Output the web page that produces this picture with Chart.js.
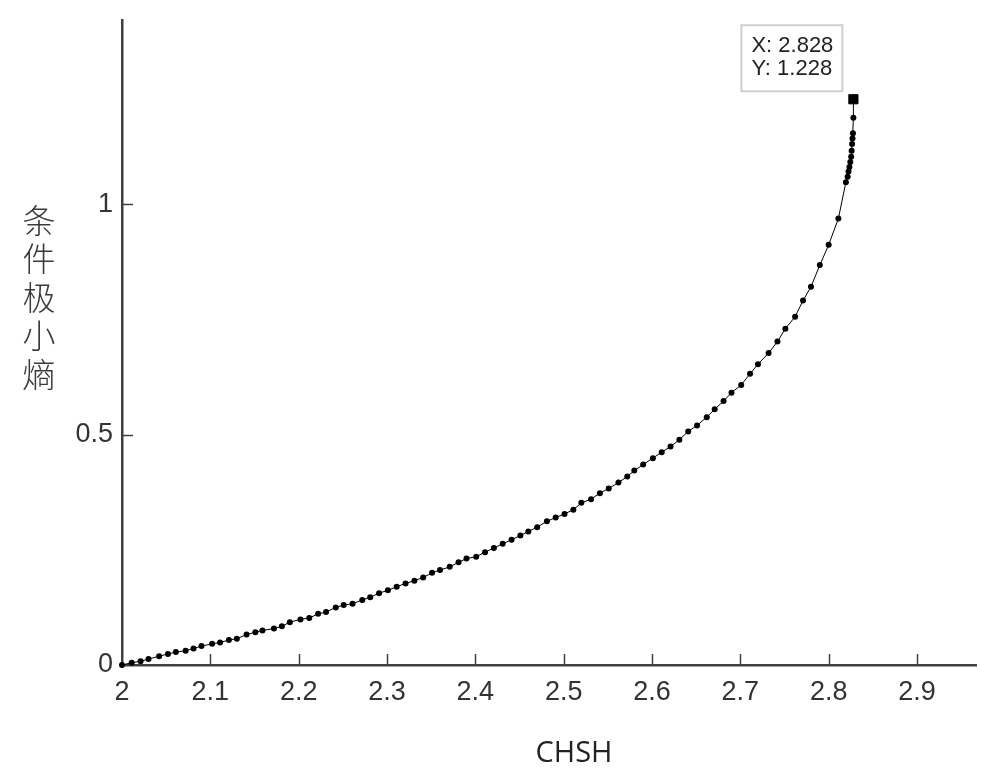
<!DOCTYPE html>
<html>
<head>
<meta charset="utf-8">
<script src="https://cdn.jsdelivr.net/npm/chart.js@4"></script>
<style>
  body { margin: 0; background: #fff; }
  canvas { display: block; }
</style>
</head>
<body>
<canvas id="chart" width="981" height="778"></canvas>
<script>
    // Data
    const chshValues = [
        2.000, 2.011, 2.021, 2.030, 2.042, 2.052, 2.061, 2.072, 2.081, 2.090,
        2.102, 2.111, 2.121, 2.130, 2.141, 2.151, 2.159, 2.172, 2.181, 2.190,
        2.202, 2.212, 2.222, 2.231, 2.242, 2.251, 2.261, 2.272, 2.281, 2.291,
        2.301, 2.311, 2.321, 2.331, 2.341, 2.351, 2.360, 2.371, 2.381, 2.390,
        2.401, 2.411, 2.421, 2.431, 2.441, 2.451, 2.460, 2.470, 2.481, 2.491,
        2.501, 2.511, 2.520, 2.531, 2.541, 2.551, 2.562, 2.572, 2.580, 2.590,
        2.601, 2.611, 2.621, 2.631, 2.641, 2.651, 2.662, 2.671, 2.681, 2.690,
        2.701, 2.711, 2.720, 2.732, 2.742, 2.751, 2.762, 2.771, 2.780, 2.790,
        2.800, 2.811, 2.8195, 2.8215, 2.8225, 2.8235, 2.8245, 2.8255, 2.826, 2.8265,
        2.827, 2.8275, 2.828, 2.828
    ];
    const entropyValues = [
        0.000, 0.005, 0.008, 0.013, 0.019, 0.024, 0.028, 0.031, 0.036, 0.041,
        0.046, 0.049, 0.054, 0.057, 0.066, 0.071, 0.075, 0.079, 0.084, 0.093,
        0.099, 0.102, 0.111, 0.115, 0.125, 0.130, 0.133, 0.141, 0.147, 0.156,
        0.162, 0.170, 0.177, 0.183, 0.190, 0.200, 0.206, 0.213, 0.223, 0.231,
        0.235, 0.245, 0.254, 0.263, 0.272, 0.281, 0.290, 0.299, 0.312, 0.320,
        0.328, 0.337, 0.352, 0.360, 0.373, 0.383, 0.396, 0.409, 0.422, 0.435,
        0.449, 0.462, 0.474, 0.489, 0.507, 0.520, 0.538, 0.555, 0.573, 0.591,
        0.608, 0.632, 0.653, 0.677, 0.702, 0.730, 0.756, 0.791, 0.821, 0.868,
        0.912, 0.969, 1.048, 1.060, 1.071, 1.081, 1.092, 1.103, 1.116, 1.131,
        1.143, 1.154, 1.188, 1.228
    ];
    const xTicks = [2, 2.1, 2.2, 2.3, 2.4, 2.5, 2.6, 2.7, 2.8, 2.9];
    const yTicks = [0, 0.5, 1];
    const xTitle = 'CHSH';
    const yTitle = '条件极小熵';
    const markedPoint = { x: 2.828, y: 1.228 };

    const axisColor = '#404040';
    const tickFont = { family: 'Liberation Sans, Arial, sans-serif', size: 27 };

    const points = chshValues.map((v, i) => ({ x: v, y: entropyValues[i] }));

    // inward tick marks, stacked y title, x title and the data tip
    const decorations = {
        id: 'decorations',
        afterDraw(chart) {
            const ctx = chart.ctx;
            const area = chart.chartArea;
            const xs = chart.scales.x;
            const ys = chart.scales.y;
            ctx.save();
            ctx.strokeStyle = axisColor;
            ctx.lineWidth = 1.5;
            xTicks.slice(1).forEach(v => {
                const px = Math.round(xs.getPixelForValue(v)) + 0.5;
                ctx.beginPath();
                ctx.moveTo(px, area.bottom);
                ctx.lineTo(px, area.bottom - 11);
                ctx.stroke();
            });
            yTicks.slice(1).forEach(v => {
                const py = Math.round(ys.getPixelForValue(v)) + 0.5;
                ctx.beginPath();
                ctx.moveTo(area.left, py);
                ctx.lineTo(area.left + 11, py);
                ctx.stroke();
            });

            // y title, one character under another
            ctx.fillStyle = '#3a3a3a';
            ctx.font = '300 33px "Noto Sans CJK SC"';
            ctx.textAlign = 'center';
            ctx.textBaseline = 'middle';
            Array.from(yTitle).forEach((ch, i) => {
                ctx.fillText(ch, 39, 220 + i * 38.5);
            });

            // x title
            ctx.fillStyle = '#222';
            ctx.font = '29px "Open Sans"';
            ctx.fillText(xTitle, 574, 754);

            // data tip next to the marked point
            const mx = xs.getPixelForValue(markedPoint.x);
            const my = ys.getPixelForValue(markedPoint.y);
            const bw = 101, bh = 66;
            const bx = mx - 11 - bw, by = my - 8 - bh;
            ctx.fillStyle = '#fff';
            ctx.fillRect(bx, by, bw, bh);
            ctx.strokeStyle = '#cfcfcf';
            ctx.lineWidth = 2;
            ctx.strokeRect(bx, by, bw, bh);
            ctx.fillStyle = '#222';
            ctx.font = '22px "Liberation Sans"';
            ctx.textAlign = 'left';
            ctx.fillText('X: ' + markedPoint.x.toFixed(3), bx + 10, by + 21);
            ctx.fillText('Y: ' + markedPoint.y.toFixed(3), bx + 10, by + 44);
            ctx.restore();
        }
    };

    new Chart(document.getElementById('chart'), {
        type: 'scatter',
        data: {
            datasets: [
                {
                    data: points,
                    showLine: true,
                    borderColor: '#000',
                    borderWidth: 1,
                    backgroundColor: '#000',
                    pointRadius: 3,
                    pointBorderWidth: 0,
                    clip: false
                },
                {
                    data: [markedPoint],
                    pointStyle: 'rect',
                    pointRadius: 6.5,
                    backgroundColor: '#000',
                    borderColor: '#000',
                    clip: false
                }
            ]
        },
        options: {
            responsive: false,
            animation: false,
            events: [],
            layout: { autoPadding: false, padding: { top: 20, right: 5, left: 0, bottom: 0 } },
            plugins: {
                legend: { display: false },
                tooltip: { enabled: false }
            },
            scales: {
                x: {
                    type: 'linear',
                    min: 2,
                    max: 2.9668,
                    afterBuildTicks: scale => { scale.ticks = xTicks.map(v => ({ value: v })); },
                    afterFit: scale => {
                        scale.height = 113;
                        scale.paddingLeft = 0;
                        scale.paddingRight = 0;
                    },
                    grid: { display: true, drawOnChartArea: false, drawTicks: false },
                    border: { display: true, color: axisColor, width: 2.5 },
                    ticks: {
                        font: tickFont,
                        color: '#333',
                        padding: 11,
                        maxRotation: 0,
                        autoSkip: false,
                        callback: v => String(+v.toFixed(2))
                    }
                },
                y: {
                    type: 'linear',
                    min: 0,
                    max: 1.4,
                    afterBuildTicks: scale => { scale.ticks = yTicks.map(v => ({ value: v })); },
                    afterFit: scale => {
                        scale.width = 122;
                        scale.paddingTop = 0;
                        scale.paddingBottom = 0;
                    },
                    grid: { display: true, drawOnChartArea: false, drawTicks: false },
                    border: { display: true, color: axisColor, width: 2.5 },
                    ticks: {
                        font: tickFont,
                        color: '#333',
                        padding: 9,
                        autoSkip: false,
                        callback: v => String(+v.toFixed(2))
                    }
                }
            }
        },
        plugins: [decorations]
    });
</script>
</body>
</html>
